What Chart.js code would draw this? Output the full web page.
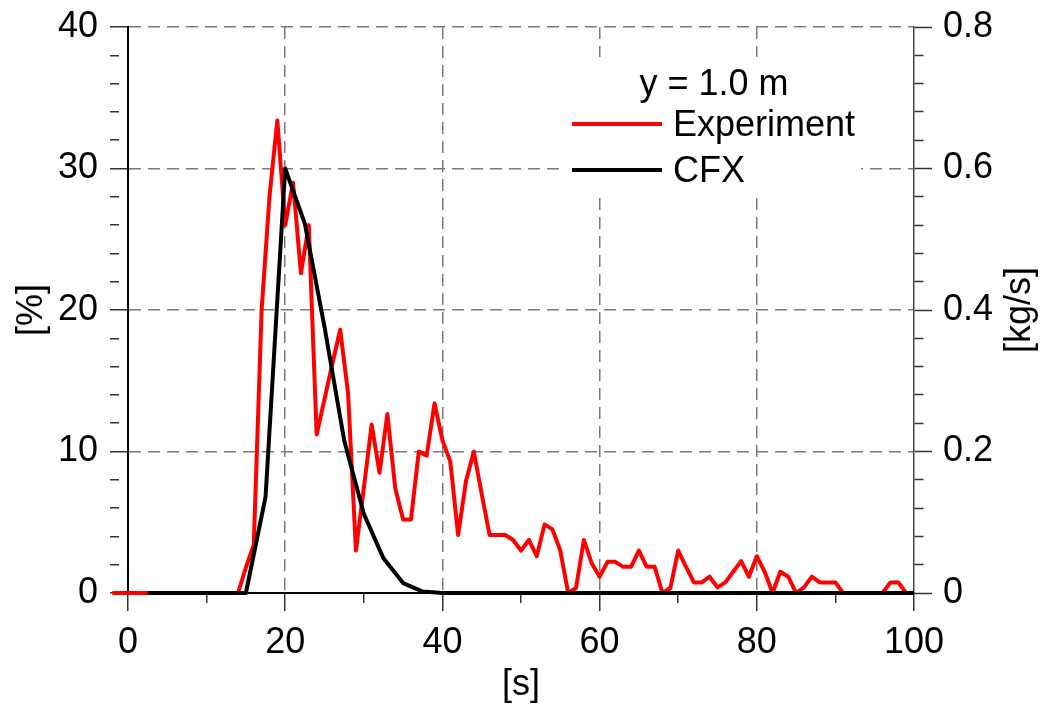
<!DOCTYPE html>
<html>
<head>
<meta charset="utf-8">
<title>y = 1.0 m</title>
<script src="https://cdn.jsdelivr.net/npm/chart.js@4"></script>
<style>
  html, body { margin: 0; padding: 0; background: #fff; }
</style>
</head>
<body>
<canvas id="chart" width="1042" height="711"></canvas>
<script>
// Experiment, sampled every second [s] -> [%]
const EXP_TIME = [
  -2, -1, 0, 1, 2, 3, 4, 5, 6, 7, 8, 9, 10, 11, 12, 13, 14, 15, 16, 17, 18, 19,
  20, 21, 22, 23, 24, 25, 26, 27, 28, 29, 30, 31, 32, 33, 34, 35, 36, 37, 38, 39,
  40, 41, 42, 43, 44, 45, 46, 47, 48, 49, 50, 51, 52, 53, 54, 55, 56, 57, 58, 59,
  60, 61, 62, 63, 64, 65, 66, 67, 68, 69, 70, 71, 72, 73, 74, 75, 76, 77, 78, 79,
  80, 81, 82, 83, 84, 85, 86, 87, 88, 89, 90, 91, 92, 93, 94, 95, 96, 97, 98, 99, 100,
];
const EXP_VALUES = [
  0, 0, 0, 0, 0, 0, 0, 0, 0, 0, 0, 0, 0, 0, 0, 0, 0, 1.8, 3.4, 20.0, 28.0, 33.4,
  26.0, 29.0, 22.6, 26.0, 11.2, 13.7, 16.2, 18.6, 14.1, 3.0, 7.4, 11.9, 8.5, 12.65, 7.4, 5.2, 5.2, 10.0, 9.7, 13.4,
  10.8, 9.3, 4.1, 7.9, 10.0, 7.0, 4.1, 4.1, 4.1, 3.75, 3.0, 3.75, 2.6, 4.85, 4.5, 3.0, 0, 0.35, 3.75, 2.1,
  1.15, 2.2, 2.2, 1.85, 1.85, 3.0, 1.85, 1.85, 0, 0.35, 3.0, 1.85, 0.75, 0.75, 1.15, 0.4, 0.75, 1.5, 2.25, 1.15,
  2.6, 1.5, 0, 1.5, 1.15, 0, 0.4, 1.15, 0.75, 0.75, 0.75, 0, 0, 0, 0, 0, 0, 0.75, 0.75, 0, 0,
];

// CFX, every 2.5 s [s] -> [kg/s]
const CFX_TIME = [
  2.5, 5, 7.5, 10, 12.5, 15, 17.5, 20, 22.5, 25, 27.5, 30, 32.5, 35, 37.5, 40,
  42.5, 45, 47.5, 50, 52.5, 55, 57.5, 60, 62.5, 65, 67.5, 70, 72.5, 75, 77.5, 80,
  82.5, 85, 87.5, 90, 92.5, 95, 97.5, 100,
];
const CFX_VALUES = [
  0, 0, 0, 0, 0, 0, 0.136, 0.600, 0.522, 0.376, 0.216, 0.112, 0.049, 0.014, 0.002, 0,
  0, 0, 0, 0, 0, 0, 0, 0, 0, 0, 0, 0, 0, 0, 0, 0,
  0, 0, 0, 0, 0, 0, 0, 0,
];

const X_TICKS = [0, 10, 20, 30, 40, 50, 60, 70, 80, 90, 100];
const Y_TICKS = [0, 2, 4, 6, 8, 10, 12, 14, 16, 18, 20, 22, 24, 26, 28, 30, 32, 34, 36, 38, 40];
const Y1_TICKS = [0, 0.04, 0.08, 0.12, 0.16, 0.2, 0.24, 0.28, 0.32, 0.36, 0.4,
                  0.44, 0.48, 0.52, 0.56, 0.6, 0.64, 0.68, 0.72, 0.76, 0.8];

const LEGEND_TITLE = 'y = 1.0 m';
const X_TITLE = '[s]';
const Y_TITLE = '[%]';
const Y1_TITLE = '[kg/s]';

const FONT = "'Liberation Sans', Arial, sans-serif";
const FONT_SIZE = 36;
const GRID = '#7a7a7a';
const TICK = '#333';
const MINOR_DASH = [9, 40];

const isMajorX = v => v % 20 === 0;
const isMajorY = v => v % 10 === 0;
const isMajorY1 = v => Math.abs(v * 5 - Math.round(v * 5)) < 1e-9;

function pts(xs, ys) {
  return xs.map((x, i) => ({x, y: ys[i]}));
}

function tickDash(isMajor) {
  return c => (c.tick && isMajor(c.tick.value)) ? [] : MINOR_DASH;
}

// vertical axes: fixed width, and no extra room for the half label at the top
function fitVertical(s) {
  s.width = 128;
  s.paddingTop = 0;
  s.paddingBottom = 0;
}

// Legend box inside the plot and the right-hand axis title (reads bottom to top).
const overlay = {
  id: 'overlay',
  beforeDatasetsDraw(chart) {
    const {ctx, chartArea: a} = chart;
    ctx.save();
    ctx.fillStyle = '#fff';
    ctx.fillRect(a.left + 437, a.top + 30, 296, 136);
    ctx.restore();
  },
  afterDatasetsDraw(chart) {
    const {ctx, chartArea: a} = chart;
    const x0 = a.left + 444;
    ctx.save();
    ctx.font = `${FONT_SIZE}px ${FONT}`;
    ctx.fillStyle = '#000';
    ctx.textBaseline = 'alphabetic';
    ctx.textAlign = 'center';
    ctx.fillText(LEGEND_TITLE, a.left + 586, a.top + 68);

    const order = [0, 1];
    order.forEach((di, row) => {
      const ds = chart.data.datasets[di];
      const y = a.top + 97 + row * 46;
      ctx.strokeStyle = ds.borderColor;
      ctx.lineWidth = 4;
      ctx.beginPath();
      ctx.moveTo(x0, y);
      ctx.lineTo(x0 + 90, y);
      ctx.stroke();
      ctx.textAlign = 'left';
      ctx.fillText(ds.label, x0 + 101, y + 12);
    });

    ctx.translate(1020, (a.top + a.bottom) / 2);
    ctx.rotate(-Math.PI / 2);
    ctx.textAlign = 'center';
    ctx.textBaseline = 'middle';
    ctx.fillText(Y1_TITLE, 0, 0);
    ctx.restore();
  },
};

const ctx = document.getElementById('chart').getContext('2d');
new Chart(ctx, {
  type: 'line',
  data: {
    datasets: [
      {
        label: 'Experiment',
        data: pts(EXP_TIME, EXP_VALUES),
        yAxisID: 'y',
        borderColor: '#ff0000',
        borderWidth: 4,
        pointRadius: 0,
        tension: 0,
        clip: false,
        order: 1,
      },
      {
        label: 'CFX',
        data: pts(CFX_TIME, CFX_VALUES),
        yAxisID: 'y1',
        borderColor: '#000000',
        borderWidth: 4,
        pointRadius: 0,
        tension: 0,
        clip: false,
        order: 0,
      },
    ],
  },
  options: {
    responsive: false,
    animation: false,
    devicePixelRatio: 1,
    layout: {padding: {top: 27, left: 0, right: 0, bottom: 0}},
    plugins: {legend: {display: false}, tooltip: {enabled: false}},
    elements: {line: {borderJoinStyle: 'round', borderCapStyle: 'butt'}},
    scales: {
      x: {
        type: 'linear',
        position: 'bottom',
        bounds: 'data',
        afterDataLimits: s => { s.min = X_TICKS[0]; s.max = X_TICKS[X_TICKS.length - 1]; },
        afterBuildTicks: s => { s.ticks = X_TICKS.map(v => ({value: v})); },
        afterFit: s => { s.height = 118; s.paddingLeft = 0; s.paddingRight = 0; },
        grid: {
          color: c => (c.tick && isMajorX(c.tick.value) && c.tick.value > 0 && c.tick.value < 100)
            ? GRID : 'rgba(0,0,0,0)',
          lineWidth: 1.5,
          tickLength: 18,
          tickColor: TICK,
          tickWidth: 1.5,
          tickBorderDash: tickDash(isMajorX),
        },
        border: {color: '#000', width: 2, dash: [12, 7]},
        ticks: {
          autoSkip: false,
          maxRotation: 0,
          padding: 10,
          color: '#000',
          font: {family: FONT, size: FONT_SIZE},
          callback: v => isMajorX(v) ? String(v) : '',
        },
        title: {
          display: true,
          text: X_TITLE,
          color: '#000',
          font: {family: FONT, size: FONT_SIZE},
          padding: {top: 0, bottom: 4},
        },
      },
      y: {
        type: 'linear',
        position: 'left',
        min: 0,
        max: 40,
        afterBuildTicks: s => { s.ticks = Y_TICKS.map(v => ({value: v})); },
        afterFit: fitVertical,
        grid: {
          color: c => (c.tick && isMajorY(c.tick.value) && c.tick.value > 0) ? GRID : 'rgba(0,0,0,0)',
          lineWidth: 1.5,
          tickLength: 18,
          tickColor: TICK,
          tickWidth: 1.5,
          tickBorderDash: tickDash(isMajorY),
        },
        border: {color: '#000', width: 2, dash: [12, 7]},
        ticks: {
          autoSkip: false,
          padding: 12,
          color: '#000',
          font: {family: FONT, size: FONT_SIZE},
          callback: v => isMajorY(v) ? String(v) : '',
        },
        title: {
          display: true,
          text: Y_TITLE,
          color: '#000',
          font: {family: FONT, size: FONT_SIZE},
          padding: {top: 10, bottom: 0},
        },
      },
      y1: {
        type: 'linear',
        position: 'right',
        min: 0,
        max: 0.8,
        afterBuildTicks: s => { s.ticks = Y1_TICKS.map(v => ({value: v})); },
        afterFit: fitVertical,
        grid: {
          drawOnChartArea: false,
          tickLength: 18,
          tickColor: TICK,
          tickWidth: 1.5,
          tickBorderDash: tickDash(isMajorY1),
        },
        border: {color: '#444', width: 1.5},
        ticks: {
          autoSkip: false,
          padding: 11,
          color: '#000',
          font: {family: FONT, size: FONT_SIZE},
          callback: v => isMajorY1(v) ? String(Math.round(v * 10) / 10) : '',
        },
      },
    },
  },
  plugins: [overlay],
});
</script>
</body>
</html>
